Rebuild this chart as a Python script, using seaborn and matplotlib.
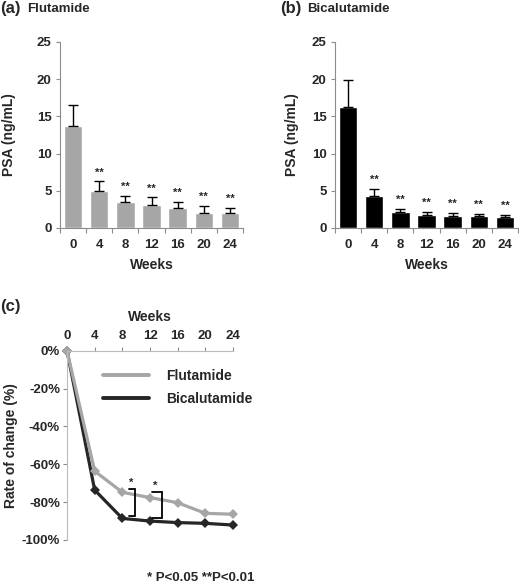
import matplotlib
matplotlib.use("Agg")
import matplotlib.pyplot as plt
from matplotlib.lines import Line2D
import seaborn as sns
import numpy as np
import pandas as pd

sns.set_theme(style="white")
plt.rcParams['font.family'] = ['Liberation Sans', 'DejaVu Sans']

weeks = [0, 4, 8, 12, 16, 20, 24]
week_labels = ["0", "4", "8", "12", "16", "20", "24"]

# Panel (a) Flutamide PSA (ng/mL): mean and upper SE
flut_psa = [13.7, 5.0, 3.55, 3.1, 2.7, 2.0, 2.0]
flut_err = [2.8, 1.25, 0.75, 1.0, 0.8, 0.9, 0.7]
flut_sig = ["", "**", "**", "**", "**", "**", "**"]

# Panel (b) Bicalutamide PSA (ng/mL)
bica_psa = [16.2, 4.3, 2.1, 1.8, 1.65, 1.55, 1.5]
bica_err = [3.7, 1.0, 0.4, 0.4, 0.4, 0.35, 0.25]
bica_sig = ["", "**", "**", "**", "**", "**", "**"]

# Panel (c) rate of change (%)
flut_rate = [0.0, -63.6, -74.8, -77.6, -80.3, -85.9, -86.4]
bica_rate = [0.0, -73.6, -88.6, -90.0, -90.8, -91.2, -92.1]

GREY = "#A6A6A6"
DARK = "#262626"
SPINE = "#8C8C8C"
TICK_FS = 9.5
LAB_FS = 10

fig = plt.figure(figsize=(5.19, 5.85), dpi=100)

def bar_panel(rect, values, errs, sig, color, ylabel_x):
    ax = fig.add_axes(rect)
    df = pd.DataFrame({"Weeks": week_labels, "PSA": values})
    sns.barplot(data=df, x="Weeks", y="PSA", order=week_labels, color=color,
                width=0.7, errorbar=None, saturation=1, ax=ax, zorder=2)
    xs = np.arange(len(values))
    ax.errorbar(xs, values, yerr=[np.zeros(len(errs)), errs], fmt="none",
                ecolor="black", elinewidth=1.0, capsize=3.5, capthick=1.0, zorder=3)
    for x, v, e, s in zip(xs, values, errs, sig):
        if s:
            ax.text(x, v + e + 0.55, s, ha="center", va="bottom", fontsize=8,
                    fontweight="bold")
    ax.set_xlim(-0.5, 6.5)
    ax.set_ylim(0, 25)
    ax.set_yticks([0, 5, 10, 15, 20, 25])
    ax.set_xticks(xs)
    ax.set_xticks(np.arange(-0.5, 7, 1), minor=True)
    ax.tick_params(axis="x", which="major", length=0, pad=8, labelsize=TICK_FS)
    ax.tick_params(axis="x", which="minor", length=3.5, width=0.8, color=SPINE,
                   direction="out", bottom=True)
    ax.tick_params(axis="y", length=3, width=0.8, color=SPINE, direction="out",
                   left=True, labelsize=TICK_FS, pad=3)
    for lab in ax.get_xticklabels() + ax.get_yticklabels():
        lab.set_fontweight("bold")
    ax.spines[["top", "right"]].set_visible(False)
    for sp in ["left", "bottom"]:
        ax.spines[sp].set_color(SPINE)
        ax.spines[sp].set_linewidth(0.8)
    ax.set_xlabel("Weeks", fontsize=LAB_FS, fontweight="bold", labelpad=5)
    ax.set_ylabel("")
    fig.text(ylabel_x, rect[1] + rect[3] / 2, "PSA (ng/mL)", rotation=90,
             ha="center", va="center", fontsize=LAB_FS, fontweight="bold")
    return ax

H = 186 / 585
axa = bar_panel([60 / 519, 1 - 228 / 585, 183 / 519, H], flut_psa, flut_err,
                flut_sig, GREY, 9 / 519)
axb = bar_panel([335 / 519, 1 - 228 / 585, 183 / 519, H], bica_psa, bica_err,
                bica_sig, "black", 292 / 519)

fig.text(0 / 519, 1 - 1 / 585, "(a)", fontsize=12, fontweight="bold", va="top", ha="left")
fig.text(27 / 519, 1 - 3 / 585, "Flutamide", fontsize=9.5, fontweight="bold", va="top", ha="left")
fig.text(280 / 519, 1 - 1 / 585, "(b)", fontsize=12, fontweight="bold", va="top", ha="left")
fig.text(307 / 519, 1 - 3 / 585, "Bicalutamide", fontsize=9.5, fontweight="bold", va="top", ha="left")
fig.text(0 / 519, 1 - 299 / 585, "(c)", fontsize=12, fontweight="bold", va="top", ha="left")

# Panel (c)
axc = fig.add_axes([67 / 519, 1 - 540 / 585, 166 / 519, 189.3 / 585])
dfc = pd.DataFrame({
    "Weeks": weeks * 2,
    "Rate": flut_rate + bica_rate,
    "Drug": ["Flutamide"] * 7 + ["Bicalutamide"] * 7,
})
sns.lineplot(data=dfc, x="Weeks", y="Rate", hue="Drug",
             hue_order=["Bicalutamide", "Flutamide"],
             palette={"Flutamide": GREY, "Bicalutamide": DARK},
             style="Drug", markers={"Flutamide": "D", "Bicalutamide": "D"},
             dashes=False, markersize=5.5, markeredgewidth=0, linewidth=2.3,
             legend=False, ax=axc, clip_on=False)
axc.set_xlim(0, 24)
axc.set_ylim(-100, 0)
axc.xaxis.tick_top()
axc.xaxis.set_label_position("top")
axc.set_xticks(weeks)
axc.set_xticklabels(week_labels)
axc.set_yticks([0, -20, -40, -60, -80, -100])
axc.set_yticklabels(["0%", "-20%", "-40%", "-60%", "-80%", "-100%"])
axc.tick_params(axis="x", top=True, bottom=False, length=3, width=0.8, color=SPINE,
                direction="out", labelsize=TICK_FS, pad=3)
axc.tick_params(axis="y", left=True, length=3, width=0.8, color=SPINE,
                direction="out", labelsize=TICK_FS, pad=2)
for lab in axc.get_xticklabels() + axc.get_yticklabels():
    lab.set_fontweight("bold")
axc.spines[["bottom", "right"]].set_visible(False)
for sp in ["left", "top"]:
    axc.spines[sp].set_color("#BBBBBB")
    axc.spines[sp].set_linewidth(0.8)
axc.set_xlabel("Weeks", fontsize=LAB_FS, fontweight="bold", labelpad=7)
axc.set_ylabel("Rate of change (%)", fontsize=LAB_FS, fontweight="bold", labelpad=3)

# significance brackets between weeks 8 and 12
for (x0, x1, ytop, ybot, sx) in [(8.9, 9.85, -72.9, -87.3, 9.25),
                                 (12.25, 13.8, -74.5, -88.2, 12.8)]:
    axc.plot([x0, x1, x1, x0], [ytop, ytop, ybot, ybot], color="black", lw=1.3,
             solid_joinstyle="miter")
    axc.text(sx, ytop + 0.5, "*", ha="center", va="bottom", fontsize=8,
             fontweight="bold")

handles = [Line2D([], [], color=GREY, lw=2.8), Line2D([], [], color=DARK, lw=2.8)]
axc.legend(handles, ["Flutamide", "Bicalutamide"], loc="upper left",
           bbox_to_anchor=(0.215, 0.905), frameon=False,
           handlelength=3.3, handletextpad=1.3, labelspacing=0.65,
           borderpad=0, borderaxespad=0, prop={"weight": "bold", "size": 10})

fig.text(147 / 519, 1 - 578 / 585, "* P<0.05 **P<0.01", fontsize=9.5, va="center",
         ha="left", fontweight="bold")

fig.savefig("out.png", dpi=100)
